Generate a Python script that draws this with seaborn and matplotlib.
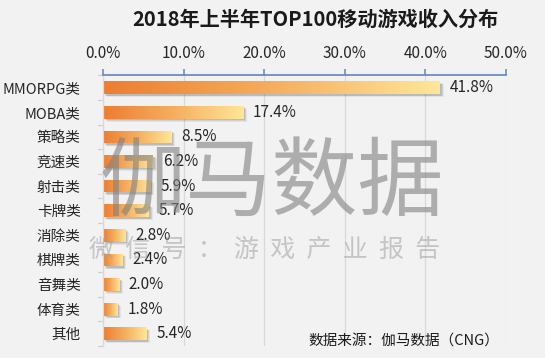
import numpy as np
import pandas as pd
import matplotlib
matplotlib.use("Agg")
import matplotlib.pyplot as plt
import seaborn as sns
from matplotlib.colors import LinearSegmentedColormap
from matplotlib.patches import Rectangle

categories = ["MMORPG类", "MOBA类", "策略类", "竞速类", "射击类", "卡牌类",
              "消除类", "棋牌类", "音舞类", "体育类", "其他"]
values = [41.8, 17.4, 8.5, 6.2, 5.9, 5.7, 2.8, 2.4, 2.0, 1.8, 5.4]
xticks = [0, 10, 20, 30, 40, 50]
tick_labels = ["0.0%", "10.0%", "20.0%", "30.0%", "40.0%", "50.0%"]

sns.set_theme(style="white")
plt.rcParams['font.family'] = ['Noto Sans CJK SC', 'DejaVu Sans']

bg = "#F2F2F2"
txt = "#262626"
fig = plt.figure(figsize=(5.45, 3.58), dpi=100, facecolor=bg)
ax = fig.add_axes([0.189, 0.0335, 0.7394, 0.7559])
ax.set_facecolor(bg)

df = pd.DataFrame({"cat": categories, "val": values})
sns.barplot(data=df, x="val", y="cat", ax=ax, orient="h", width=0.52,
            color="#F08A3C", edgecolor="none", saturation=1)

cmap = LinearSegmentedColormap.from_list("g", ["#ED7D31", "#F5AE5E", "#FFE699"])
grad = np.linspace(0, 1, 256).reshape(1, -1)
patches = list(ax.patches)
for p in patches:
    x0, y0 = p.get_x(), p.get_y()
    w, h = p.get_width(), p.get_height()
    # soft shadow
    for k, a in enumerate([0.10, 0.08, 0.06]):
        d = 0.12 * (k + 1)
        sh = Rectangle((x0 + 0.1 + d, y0 + 0.03 + d * 0.25), w, h, facecolor="#000000",
                       alpha=a, edgecolor="none", zorder=1.5)
        ax.add_patch(sh)
    p.set_zorder(2)
    im = ax.imshow(grad, cmap=cmap, aspect="auto",
                   extent=[x0, x0 + w, y0 + h, y0], zorder=2.5, interpolation="bicubic")
    im.set_clip_path(p)
    ax.text(x0 + w + 1.2, y0 + h / 2, f"{w:.1f}%", va="center", ha="left",
            fontsize=11, color=txt, zorder=4)

ax.set_xlim(0, 50)
ax.set_ylim(len(categories) - 0.5, -0.5)
ax.xaxis.tick_top()
ax.set_xticks(xticks)
ax.set_xticklabels(tick_labels, fontsize=11, color=txt)
ax.tick_params(axis="x", which="both", top=True, direction="out", length=4.5,
               width=1.1, color="#5B87C5", pad=5)
ax.tick_params(axis="y", left=False, labelsize=10.5, labelcolor=txt, pad=10)
ax.set_xlabel("")
ax.set_ylabel("")
ax.grid(axis="x", color="#D9D9D9", linewidth=0.9, zorder=0)
ax.set_axisbelow(True)
for s in ["right", "bottom"]:
    ax.spines[s].set_visible(False)
ax.spines["top"].set_color("#5B87C5")
ax.spines["top"].set_linewidth(1.2)
ax.spines["left"].set_color("#D9D9D9")
ax.spines["left"].set_linewidth(0.9)
for i in range(len(categories) + 1):
    ax.plot([-0.62, 0], [i - 0.5, i - 0.5], color="#D0D0D0", lw=0.9, clip_on=False, zorder=1)

fig.text(0.578, 0.945, "2018年上半年TOP100移动游戏收入分布", ha="center", va="center",
         fontsize=14.5, fontweight="bold", color="#1a1a1a")

# watermark
fig.text(0.498, 0.486, "伽马数据", ha="center", va="center", fontsize=62,
         color="#808080", alpha=0.6, zorder=10)
fig.text(0.485, 0.302, "微  信  号  ：  游  戏  产  业  报  告", ha="center", va="center",
         fontsize=18, color="#A0A0A0", alpha=0.55, zorder=10)

fig.text(0.565, 0.05, "数据来源：伽马数据（CNG）", ha="left", va="center",
         fontsize=10.5, color="#1a1a1a")

fig.savefig("out.png", dpi=100, facecolor=bg)
